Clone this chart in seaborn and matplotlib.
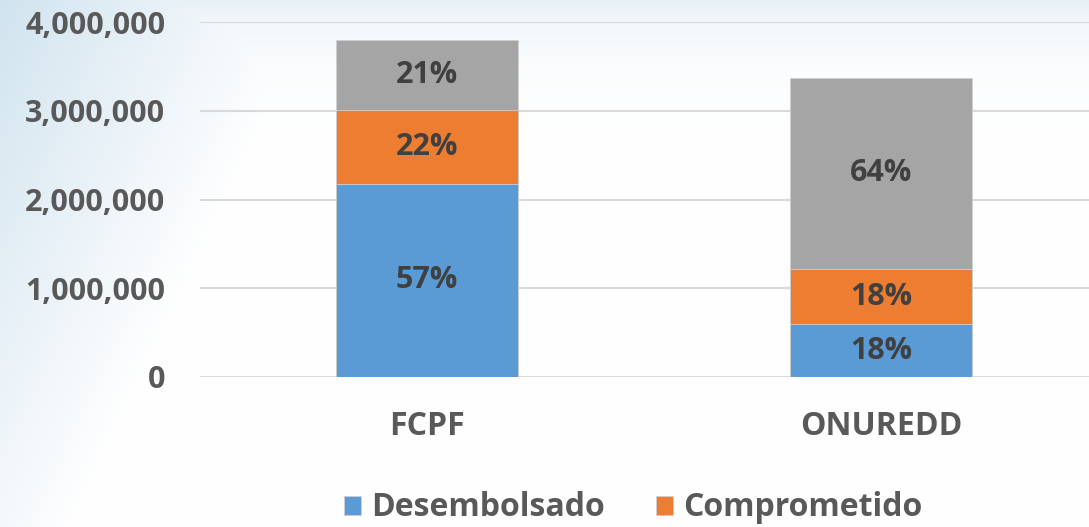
import numpy as np
import pandas as pd
import matplotlib.pyplot as plt
from matplotlib.ticker import FuncFormatter
import seaborn as sns

# Datos (montos en USD)
programas = ["FCPF", "ONUREDD"]
desembolsado = [2175000, 597000]
comprometido = [830000, 620000]
disponible = [792000, 2152000]

series = ["Desembolsado", "Comprometido", "Disponible"]
colores = ["#5B9BD5", "#ED7D31", "#A5A5A5"]
ticks_y = [0, 1000000, 2000000, 3000000, 4000000]

df = pd.DataFrame({"programa": programas,
                   "Desembolsado": desembolsado,
                   "Comprometido": comprometido,
                   "Disponible": disponible})
df["total"] = df[series].sum(axis=1)
acum = df[series].cumsum(axis=1)

sns.set_theme(style="white")
plt.rcParams["font.family"] = ["Open Sans", "DejaVu Sans"]
plt.rcParams["font.weight"] = "bold"

W, H = 1089, 527
fig = plt.figure(figsize=(W / 100, H / 100), dpi=100)

# fondo con degradado azul claro (arriba a la izquierda)
gx, gy = np.meshgrid(np.linspace(0, 1, 400), np.linspace(0, 1, 200))
peso = np.clip(1 - gx / 0.30 - gy / 1.3, 0, 1) * 0.9
peso = np.maximum(peso, np.exp(-gy / 0.08) * 0.45)
azul = np.array([0.80, 0.88, 0.93])
img = 1 - peso[..., None] * (1 - azul)
bg = fig.add_axes([0, 0, 1, 1])
bg.imshow(img, aspect="auto", extent=[0, 1, 0, 1], origin="upper")
bg.axis("off")

ax = fig.add_axes([200 / W, 1 - 377 / H, 908 / W, 355 / H])
ax.patch.set_alpha(0)

for s, c in reversed(list(zip(series, colores))):
    sns.barplot(x=df["programa"], y=acum[s], color=c, width=0.4, ax=ax,
                label=None if s == "Disponible" else s,
                edgecolor="#d0d0d0", linewidth=0.6, saturation=1)

for i, fila in df.iterrows():
    for s in series:
        medio = acum.loc[i, s] - fila[s] / 2
        pct = fila[s] / fila["total"] * 100
        ax.text(i, medio, f"{pct:.0f}%", ha="center", va="center",
                fontsize=22, fontweight="bold", color="#404040")

ax.set_ylim(0, 4000000)
ax.set_xlim(-0.5, 1.5)
ax.set_yticks(ticks_y)
ax.yaxis.set_major_formatter(FuncFormatter(lambda v, p: f"{v:,.0f}"))
ax.grid(axis="y", color="#d9d9d9", linewidth=1.5)
ax.set_axisbelow(True)
sns.despine(ax=ax, left=True, bottom=True)
ax.tick_params(axis="y", length=0, pad=25, labelsize=22, labelcolor="#595959")
ax.tick_params(axis="x", length=0, pad=24, labelsize=23, labelcolor="#595959")
for t in ax.get_xticklabels() + ax.get_yticklabels():
    t.set_fontweight("bold")
ax.set_xlabel("")
ax.set_ylabel("")

h, l = ax.get_legend_handles_labels()
orden = [l.index("Desembolsado"), l.index("Comprometido")]
leg = ax.legend([h[k] for k in orden], [l[k] for k in orden],
                loc="center", bbox_to_anchor=(633 / W, 1 - 508 / H),
                bbox_transform=fig.transFigure, ncol=2, frameon=False,
                fontsize=23, handlelength=0.55, handleheight=0.55,
                handletextpad=0.3, columnspacing=1.6)
for t in leg.get_texts():
    t.set_color("#595959")
    t.set_fontweight("bold")

fig.savefig("out.png", dpi=100)
